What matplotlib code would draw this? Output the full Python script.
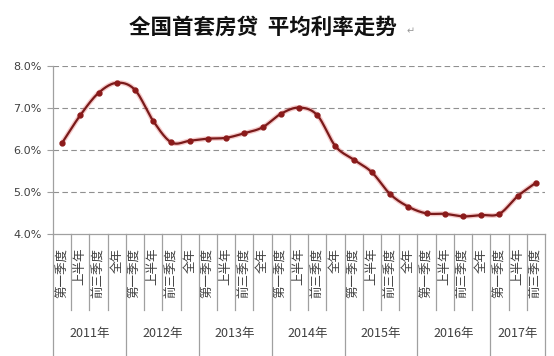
import numpy as np
import matplotlib
matplotlib.use("Agg")
import matplotlib.pyplot as plt

plt.rcParams['font.family'] = ['Noto Sans CJK SC', 'DejaVu Sans']

years = ['2011年', '2012年', '2013年', '2014年', '2015年', '2016年', '2017年']
periods = ['第一季度', '上半年', '前三季度', '全年']
# periods reported per year (2017 only up to 前三季度)
n_periods = [4, 4, 4, 4, 4, 4, 3]
rates = [6.17, 6.83, 7.36, 7.60, 7.43, 6.69, 6.18, 6.22, 6.27, 6.29, 6.40, 6.54,
         6.86, 7.01, 6.83, 6.09, 5.77, 5.47, 4.95, 4.65, 4.49, 4.48, 4.42, 4.45,
         4.48, 4.90, 5.22]

labels = []
for n in n_periods:
    labels += periods[:n]


def smooth(xs, ys, steps=20):
    # catmull-rom curve through the points, only for drawing the line
    px = np.concatenate([[2 * xs[0] - xs[1]], xs, [2 * xs[-1] - xs[-2]]])
    py = np.concatenate([[2 * ys[0] - ys[1]], ys, [2 * ys[-1] - ys[-2]]])
    t = np.linspace(0, 1, steps, endpoint=False)
    ox, oy = [], []
    for i in range(1, len(px) - 2):
        for p, o in ((px, ox), (py, oy)):
            p0, p1, p2, p3 = p[i - 1], p[i], p[i + 1], p[i + 2]
            o.extend(0.5 * (2 * p1 + (-p0 + p2) * t
                            + (2 * p0 - 5 * p1 + 4 * p2 - p3) * t ** 2
                            + (-p0 + 3 * p1 - 3 * p2 + p3) * t ** 3))
    ox.append(xs[-1])
    oy.append(ys[-1])
    return np.array(ox), np.array(oy)


x = np.arange(len(rates))
y = np.array(rates)
sx, sy = smooth(x.astype(float), y)

fig = plt.figure(figsize=(5.54, 3.56), dpi=100)
ax = fig.add_axes([0.0957, 0.3427, 0.888, 0.4719])

line_c = '#a0a0a0'
text_c = '#404040'

for v in [5, 6, 7, 8]:
    ax.axhline(v, color='#909090', lw=0.8, ls=(0, (5, 3)), zorder=1)

ax.plot(sx, sy, color='#e05050', lw=3.5, alpha=0.3, solid_capstyle='round', zorder=2)
ax.plot(sx, sy, color='#7a1a1a', lw=1.6, zorder=3)
ax.plot(x, y, 'o', color='#8b1a1a', ms=3.5, zorder=4)

ax.set_xlim(-0.5, len(rates) - 0.5)
ax.set_ylim(4, 8)
ax.set_yticks([4, 5, 6, 7, 8])
ax.set_yticklabels(['4.0%', '5.0%', '6.0%', '7.0%', '8.0%'], family='DejaVu Sans')
ax.tick_params(axis='y', length=4, color=line_c, labelsize=8, labelcolor=text_c, pad=4)

ax.set_xticks(x)
ax.set_xticklabels(labels, rotation=90, fontsize=9, color=text_c)
ax.tick_params(axis='x', length=0, pad=10)

for s in ['top', 'right']:
    ax.spines[s].set_visible(False)
for s in ['left', 'bottom']:
    ax.spines[s].set_color(line_c)
    ax.spines[s].set_linewidth(0.9)

# separators under the axis
tr = ax.get_xaxis_transform()
bounds = np.cumsum([0] + n_periods)
for k in range(len(rates) + 1):
    bottom = -0.73 if k in bounds else -0.455
    ax.plot([k - 0.5, k - 0.5], [0, bottom], color=line_c, lw=0.9,
            transform=tr, clip_on=False)

for i, yr in enumerate(years):
    mid = (bounds[i] + bounds[i + 1]) / 2 - 0.5
    ax.text(mid, -0.59, yr, transform=tr, ha='center', va='center',
            fontsize=9, color=text_c)

fig.text(0.475, 0.925, '全国首套房贷  平均利率走势', ha='center', va='center',
         fontsize=15.5, fontweight='bold', color='#111111')
fig.text(0.742, 0.912, '↵', ha='center', va='center', fontsize=7,
         color='#999999', family=['DejaVu Sans'])

fig.savefig('out.png', dpi=100)
